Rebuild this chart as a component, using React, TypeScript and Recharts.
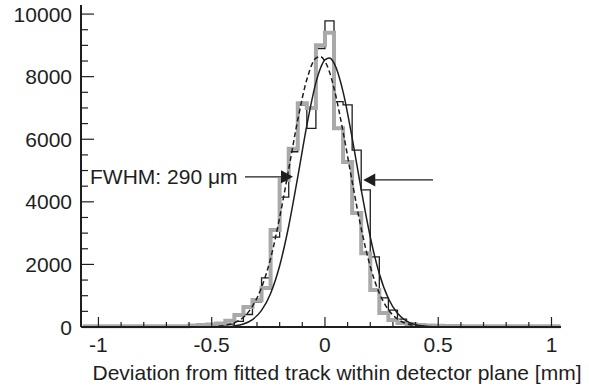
import { ComposedChart, Line, XAxis, YAxis, ReferenceLine, ReferenceDot } from 'recharts';

// bin edges of both histograms (mm); outer bins hold the flat tails
const binEdges = [
  -1.07, -0.6, -0.56, -0.52, -0.48, -0.44, -0.4, -0.36, -0.32, -0.28, -0.24, -0.2, -0.16, -0.12, -0.08, -0.04,
  0, 0.04, 0.08, 0.12, 0.16, 0.2, 0.24, 0.28, 0.32, 0.36, 0.4, 0.44, 0.48, 0.52, 0.56, 0.6, 1.04,
];

const blackCounts = [
  10, 20, 30, 40, 60, 90, 180, 400, 800, 1570, 2870, 4150, 5600, 7100, 6350, 8900,
  9780, 7200, 7100, 5650, 4380, 2240, 930, 540, 250, 120, 70, 40, 30, 20, 15, 5,
];

const grayCounts = [
  20, 50, 60, 80, 110, 200, 380, 640, 860, 1250, 3100, 4700, 5700, 7150, 7000, 9000,
  9400, 6350, 5270, 3640, 2360, 1180, 450, 220, 130, 90, 60, 50, 40, 35, 30, 20,
];

// fitted curves
const curveX = [
  -1.07, -0.6, -0.56, -0.52, -0.48, -0.44, -0.4, -0.36, -0.32, -0.28, -0.24, -0.2, -0.16, -0.12, -0.08, -0.04, -0.02,
  0, 0.02, 0.04, 0.08, 0.12, 0.16, 0.2, 0.24, 0.28, 0.32, 0.36, 0.4, 0.44, 0.48, 0.52, 0.56, 0.6, 1.04,
];
const fitSolid = [
  0, 0, 0, 1, 3, 11, 35, 95, 237, 530, 1073, 1956, 3228, 4799, 6442, 7808, 8270,
  8538, 8593, 8430, 7514, 6043, 4390, 2877, 1702, 909, 438, 191, 75, 27, 9, 3, 1, 0, 0,
];
const fitDashed = [
  0, 0, 2, 6, 19, 53, 135, 313, 662, 1264, 2190, 3500, 5045, 6625, 7910, 8590, 8640,
  8490, 8150, 7630, 6240, 4650, 3145, 1935, 1083, 553, 256, 108, 41, 14, 4, 1, 0, 0, 0,
];

const xTicks = [-1, -0.9, -0.8, -0.7, -0.6, -0.5, -0.4, -0.3, -0.2, -0.1, 0, 0.1, 0.2, 0.3, 0.4, 0.5, 0.6, 0.7, 0.8, 0.9, 1];
const yTicks = [
  0, 500, 1000, 1500, 2000, 2500, 3000, 3500, 4000, 4500, 5000, 5500, 6000, 6500, 7000, 7500, 8000, 8500, 9000, 9500, 10000,
];

const X_DOMAIN = [-1.077, 1.042];
const Y_DOMAIN = [0, 10290];

const PLOT_LEFT = 81;
const PLOT_BOTTOM = 327;
const FONT = '"Liberation Sans", Arial, Helvetica, sans-serif';
const INK = '#1e1e1e';

const histData = (counts: number[]) => {
  const pts = counts.map((v, i) => ({ x: binEdges[i], v }));
  pts.push({ x: binEdges[binEdges.length - 1], v: counts[counts.length - 1] });
  return pts;
};
const curveData = (vals: number[]) => curveX.map((x, i) => ({ x, v: vals[i] }));

const XTick = (props: any) => {
  const { x, payload } = props;
  const v = payload.value;
  const major = Math.abs(v * 2 - Math.round(v * 2)) < 1e-6;
  return (
    <g>
      <line x1={x} x2={x} y1={PLOT_BOTTOM} y2={PLOT_BOTTOM - (major ? 10 : 5)} stroke={INK} strokeWidth={1.2} />
      {major && (
        <text x={x} y={352} textAnchor="middle" fontSize={21} fontFamily={FONT} fill={INK}>
          {String(v)}
        </text>
      )}
    </g>
  );
};

const YTick = (props: any) => {
  const { y, payload } = props;
  const v = payload.value;
  const major = v % 2000 === 0;
  return (
    <g>
      <line x1={PLOT_LEFT} x2={PLOT_LEFT + (major ? 13 : 7)} y1={y} y2={y} stroke={INK} strokeWidth={1.2} />
      {major && (
        <text x={72} y={y + 7.5} textAnchor="end" fontSize={21} fontFamily={FONT} fill={INK}>
          {String(v)}
        </text>
      )}
    </g>
  );
};

const arrowRight = (p: any) => (
  <polygon points={`${p.cx},${p.cy} ${p.cx - 12},${p.cy - 6.5} ${p.cx - 12},${p.cy + 6.5}`} fill={INK} />
);
const arrowLeft = (p: any) => (
  <polygon points={`${p.cx},${p.cy} ${p.cx + 12},${p.cy - 6.5} ${p.cx + 12},${p.cy + 6.5}`} fill={INK} />
);
const fwhmText = (p: any) => (
  <text x={p.cx} y={p.cy + 7.5} fontSize={21} fontFamily={FONT} fill={INK}>
    FWHM: 290 μm
  </text>
);

export default function App() {
  return (
    <div style={{ position: 'absolute', left: 0, top: 0, background: '#fff', fontFamily: FONT }}>
      <ComposedChart width={589} height={390} margin={{ top: 5, right: 28, bottom: 0, left: 0 }}>
        <XAxis
          dataKey="x"
          type="number"
          domain={X_DOMAIN}
          ticks={xTicks}
          interval={0}
          height={63}
          tickLine={false}
          axisLine={{ stroke: INK, strokeWidth: 2 }}
          tick={<XTick />}
          label={{
            value: 'Deviation from fitted track within detector plane [mm]',
            position: 'insideBottom',
            offset: 10,
            dx: 16,
            fontSize: 21,
            fontFamily: FONT,
            fill: INK,
          }}
        />
        <XAxis
          xAxisId="top"
          orientation="top"
          type="number"
          domain={X_DOMAIN}
          height={0}
          tick={false}
          tickLine={false}
          axisLine={{ stroke: '#8a8a8a', strokeWidth: 1.5 }}
        />
        <YAxis
          type="number"
          domain={Y_DOMAIN}
          ticks={yTicks}
          interval={0}
          width={81}
          tickLine={false}
          axisLine={{ stroke: INK, strokeWidth: 2 }}
          tick={<YTick />}
        />
        <YAxis
          yAxisId="right"
          orientation="right"
          type="number"
          domain={Y_DOMAIN}
          width={0}
          tick={false}
          tickLine={false}
          axisLine={{ stroke: '#333', strokeWidth: 2.5 }}
        />

        <Line
          data={histData(blackCounts)}
          dataKey="v"
          type="stepAfter"
          stroke={INK}
          strokeWidth={1.3}
          dot={false}
          activeDot={false}
          isAnimationActive={false}
        />
        <Line
          data={histData(grayCounts)}
          dataKey="v"
          type="stepAfter"
          stroke="#a9a9a9"
          strokeWidth={4}
          dot={false}
          activeDot={false}
          isAnimationActive={false}
        />
        <Line
          data={curveData(fitSolid)}
          dataKey="v"
          type="monotone"
          stroke={INK}
          strokeWidth={1.5}
          dot={false}
          activeDot={false}
          isAnimationActive={false}
        />
        <Line
          data={curveData(fitDashed)}
          dataKey="v"
          type="monotone"
          stroke={INK}
          strokeWidth={1.5}
          strokeDasharray="5 3"
          dot={false}
          activeDot={false}
          isAnimationActive={false}
        />

        <ReferenceLine segment={[{ x: -0.353, y: 4800 }, { x: -0.15, y: 4800 }]} stroke={INK} strokeWidth={1.2} />
        <ReferenceDot x={-0.141} y={4800} shape={arrowRight} />
        <ReferenceLine segment={[{ x: 0.18, y: 4700 }, { x: 0.477, y: 4700 }]} stroke={INK} strokeWidth={1.2} />
        <ReferenceDot x={0.169} y={4700} shape={arrowLeft} />
        <ReferenceDot x={-1.037} y={4800} shape={fwhmText} />
      </ComposedChart>
    </div>
  );
}
